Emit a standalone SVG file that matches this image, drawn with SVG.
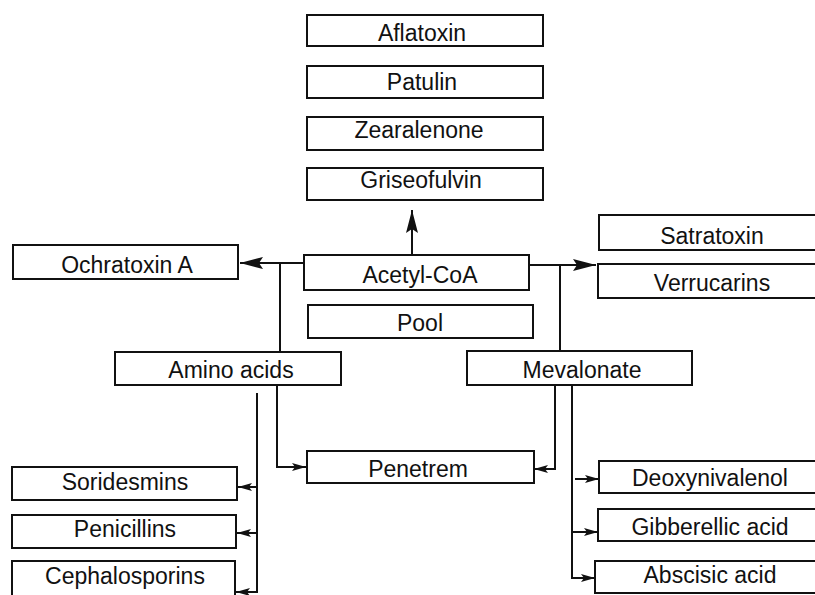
<svg xmlns="http://www.w3.org/2000/svg" width="815" height="595" viewBox="0 0 815 595">
  <defs>
    <style>
      .box { fill: #ffffff; stroke: #111111; stroke-width: 2; }
      .lbl { font-family: "Liberation Sans", Arial, sans-serif; font-size: 23px; fill: #111111; text-anchor: middle; }
      .ln { fill: none; stroke: #111111; stroke-width: 2; }
      .big { marker-end: url(#headBig); }
      .small { marker-end: url(#headSmall); }
    </style>
    <marker id="headBig" markerUnits="userSpaceOnUse" markerWidth="24" markerHeight="14" viewBox="0 0 24 14" refX="23" refY="7" orient="auto">
      <path d="M0,1 L23,7 L0,13 L4,7 Z" fill="#111111"/>
    </marker>
    <marker id="headSmall" markerUnits="userSpaceOnUse" markerWidth="15" markerHeight="10" viewBox="0 0 15 10" refX="14" refY="5" orient="auto">
      <path d="M0,1 L14,5 L0,9 L3,5 Z" fill="#111111"/>
    </marker>
  </defs>

  <rect width="815" height="595" fill="#ffffff"/>

  <!-- connectors -->
  <g id="connectors">
    <!-- Acetyl-CoA up to the polyketide column -->
    <line class="ln big" x1="412" y1="255" x2="412" y2="210"/>
    <!-- Acetyl-CoA left to Ochratoxin A -->
    <line class="ln big" x1="304" y1="263" x2="240" y2="263"/>
    <line class="ln" x1="280" y1="263" x2="280" y2="352"/>
    <!-- Acetyl-CoA right to trichothecenes -->
    <line class="ln big" x1="529" y1="265" x2="596" y2="265"/>
    <line class="ln" x1="560" y1="265" x2="560" y2="351"/>
    <!-- Amino acids to Penetrem -->
    <polyline class="ln small" points="277,385 277,467 306,467"/>
    <!-- Mevalonate to Penetrem -->
    <polyline class="ln small" points="555,385 555,469 534,469"/>
    <!-- Amino acids trunk to left products -->
    <line class="ln" x1="257" y1="393" x2="257" y2="593"/>
    <line class="ln small" x1="257" y1="487" x2="238" y2="487"/>
    <line class="ln small" x1="257" y1="533" x2="237" y2="533"/>
    <line class="ln small" x1="257" y1="592" x2="236" y2="592"/>
    <!-- Mevalonate trunk to right products -->
    <polyline class="ln small" points="572,385 572,578 595,578"/>
    <line class="ln small" x1="575" y1="479" x2="599" y2="479"/>
    <line class="ln small" x1="572" y1="532" x2="598" y2="532"/>
  </g>

  <!-- polyketide products -->
  <g id="aflatoxin">
    <rect class="box" x="307" y="15" width="236" height="31"/>
    <text class="lbl" x="422" y="41">Aflatoxin</text>
  </g>
  <g id="patulin">
    <rect class="box" x="307" y="66" width="236" height="32"/>
    <text class="lbl" x="422" y="90">Patulin</text>
  </g>
  <g id="zearalenone">
    <rect class="box" x="307" y="117" width="236" height="33"/>
    <text class="lbl" x="419" y="138">Zearalenone</text>
  </g>
  <g id="griseofulvin">
    <rect class="box" x="307" y="168" width="236" height="32"/>
    <text class="lbl" x="421" y="188">Griseofulvin</text>
  </g>

  <!-- central pool -->
  <g id="acetyl-coa">
    <rect class="box" x="304" y="255" width="225" height="35"/>
    <text class="lbl" x="420" y="283">Acetyl-CoA</text>
  </g>
  <g id="pool">
    <rect class="box" x="308" y="305" width="225" height="33"/>
    <text class="lbl" x="420" y="331">Pool</text>
  </g>

  <g id="ochratoxin-a">
    <rect class="box" x="13" y="245" width="225" height="34"/>
    <text class="lbl" x="127" y="273">Ochratoxin A</text>
  </g>

  <g id="satratoxin">
    <rect class="box" x="599" y="215" width="230" height="35"/>
    <text class="lbl" x="712" y="244">Satratoxin</text>
  </g>
  <g id="verrucarins">
    <rect class="box" x="598" y="264" width="230" height="34"/>
    <text class="lbl" x="712" y="291">Verrucarins</text>
  </g>

  <g id="amino-acids">
    <rect class="box" x="115" y="352" width="226" height="33"/>
    <text class="lbl" x="231" y="378">Amino acids</text>
  </g>
  <g id="mevalonate">
    <rect class="box" x="467" y="351" width="225" height="34"/>
    <text class="lbl" x="582" y="378">Mevalonate</text>
  </g>

  <g id="penetrem">
    <rect class="box" x="307" y="451" width="227" height="32"/>
    <text class="lbl" x="418" y="477">Penetrem</text>
  </g>

  <!-- amino-acid derived products -->
  <g id="soridesmins">
    <rect class="box" x="12" y="467" width="225" height="33"/>
    <text class="lbl" x="125" y="490">Soridesmins</text>
  </g>
  <g id="penicillins">
    <rect class="box" x="12" y="515" width="224" height="33"/>
    <text class="lbl" x="125" y="537">Penicillins</text>
  </g>
  <g id="cephalosporins">
    <rect class="box" x="12" y="561" width="223" height="40"/>
    <text class="lbl" x="125" y="584">Cephalosporins</text>
  </g>

  <!-- mevalonate derived products -->
  <g id="deoxynivalenol">
    <rect class="box" x="599" y="461" width="230" height="32"/>
    <text class="lbl" x="710" y="486">Deoxynivalenol</text>
  </g>
  <g id="gibberellic-acid">
    <rect class="box" x="598" y="509" width="230" height="32"/>
    <text class="lbl" x="710" y="535">Gibberellic acid</text>
  </g>
  <g id="abscisic-acid">
    <rect class="box" x="595" y="561" width="233" height="32"/>
    <text class="lbl" x="710" y="583">Abscisic acid</text>
  </g>
</svg>
